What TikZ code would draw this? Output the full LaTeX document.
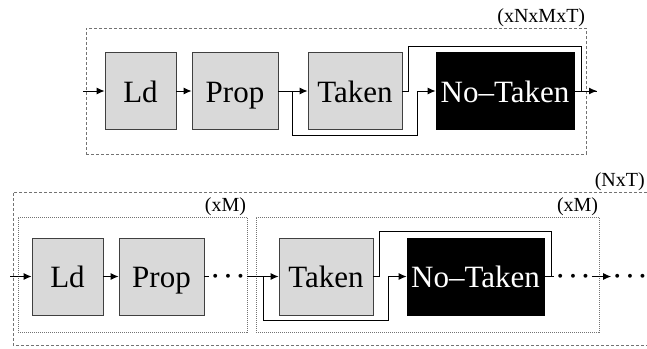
\documentclass[tikz,border=0pt]{standalone}
\usepackage{fontspec}
\setmainfont{Liberation Serif}
\usetikzlibrary{arrows.meta, positioning}
\tikzstyle{blk}=[draw=black!75, fill=black!15, line width=0.8pt, minimum height=77pt, inner sep=0pt, text height=22pt, text depth=0pt, font=\fontsize{31}{36}\selectfont]
\tikzstyle{dark}=[blk, fill=black, draw=black, text=white]
\tikzstyle{mainedge}=[-{Latex[length=8pt,width=7pt]}, line width=1pt]
\tikzstyle{wire}=[line width=1pt]
\tikzstyle{outer}=[draw=black!55, line width=0.7pt, dash pattern=on 3pt off 2pt, minimum height=126pt]
\tikzstyle{inner}=[draw=black!55, line width=0.6pt, dash pattern=on 1pt off 1pt, minimum height=115pt]
\tikzstyle{tag}=[font=\fontsize{20}{24}\selectfont, inner sep=1pt]
\tikzstyle{dots}=[inner sep=2pt, font=\fontsize{26}{30}\selectfont\boldmath]

\begin{document}
\begin{tikzpicture}[x=1pt,y=-1pt]
\useasboundingbox (0,0) rectangle (647,348);
% top loop
\node[outer, minimum width=500pt] (loop1) at (336,91) {};
\node[tag, anchor=south east] (tag1) at (loop1.north east) {(xNxMxT)};
\node[blk, minimum width=71pt]  (ld1)   at (140.5,91) {Ld};
\node[blk, minimum width=86pt]  (prop1) at (235,91)   {Prop};
\node[blk, minimum width=94pt]  (tk1)   at (355,91)   {Taken};
\node[dark, minimum width=138pt] (nt1)  at (505,91)   {No--Taken};
\coordinate (in1)  at (83,91);
\coordinate (sp1)  at (292,91);
\coordinate (lo1)  at (417,135);
\coordinate (up1)  at (408,46);
\coordinate (hi1)  at (581,46);
\coordinate (out1) at (597,91);
\draw[mainedge] (in1) -- (ld1);
\draw[mainedge] (ld1) -- (prop1);
\draw[mainedge] (prop1) -- (tk1);
\draw[mainedge] (sp1) |- (lo1) |- (nt1);
\draw[wire] (tk1) -| (up1) -- (hi1) |- (out1);
\draw[mainedge] (nt1) -- (out1);
% bottom loops
\coordinate (ne2) at (646,192);
\draw[outer] (647,192) -| (13,345) -- (647,345);
\node[tag, anchor=south east] (tag2) at (ne2) {(NxT)};
\node[inner, minimum width=229pt] (grp1) at (132.5,274.5) {};
\node[inner, minimum width=343pt] (grp2) at (427.5,274.5) {};
\node[tag, anchor=south east] (tag3) at (grp1.north east) {(xM)};
\node[tag, anchor=south east] (tag4) at (grp2.north east) {(xM)};
\node[blk, minimum width=71pt]  (ld2)   at (67.5,276.5)  {Ld};
\node[blk, minimum width=85pt]  (prop2) at (161.5,276.5) {Prop};
\node[blk, minimum width=94pt]  (tk2)   at (326,276.5)   {Taken};
\node[dark, minimum width=137pt] (nt2)  at (475.5,276.5) {No--Taken};
\node[dots] (dots1) at (228,276.5) {$\cdots$};
\node[dots] (dots2) at (573,276.5) {$\cdots$};
\node[dots] (dots3) at (630,276.5) {$\cdots$};
\coordinate (in2) at (10,276.5);
\coordinate (sp2) at (263,276.5);
\coordinate (lo2) at (388,320);
\coordinate (up2) at (379,231);
\coordinate (hi2) at (551,231);
\draw[mainedge] (in2) -- (ld2);
\draw[mainedge] (ld2) -- (prop2);
\draw[wire] (prop2) -- (dots1);
\draw[mainedge] (dots1) -- (tk2);
\draw[mainedge] (sp2) |- (lo2) |- (nt2);
\draw[wire] (tk2) -| (up2) -- (hi2) |- (dots2);
\draw[wire] (nt2) -- (dots2);
\draw[mainedge] (dots2) -- (dots3);
\end{tikzpicture}
\end{document}
